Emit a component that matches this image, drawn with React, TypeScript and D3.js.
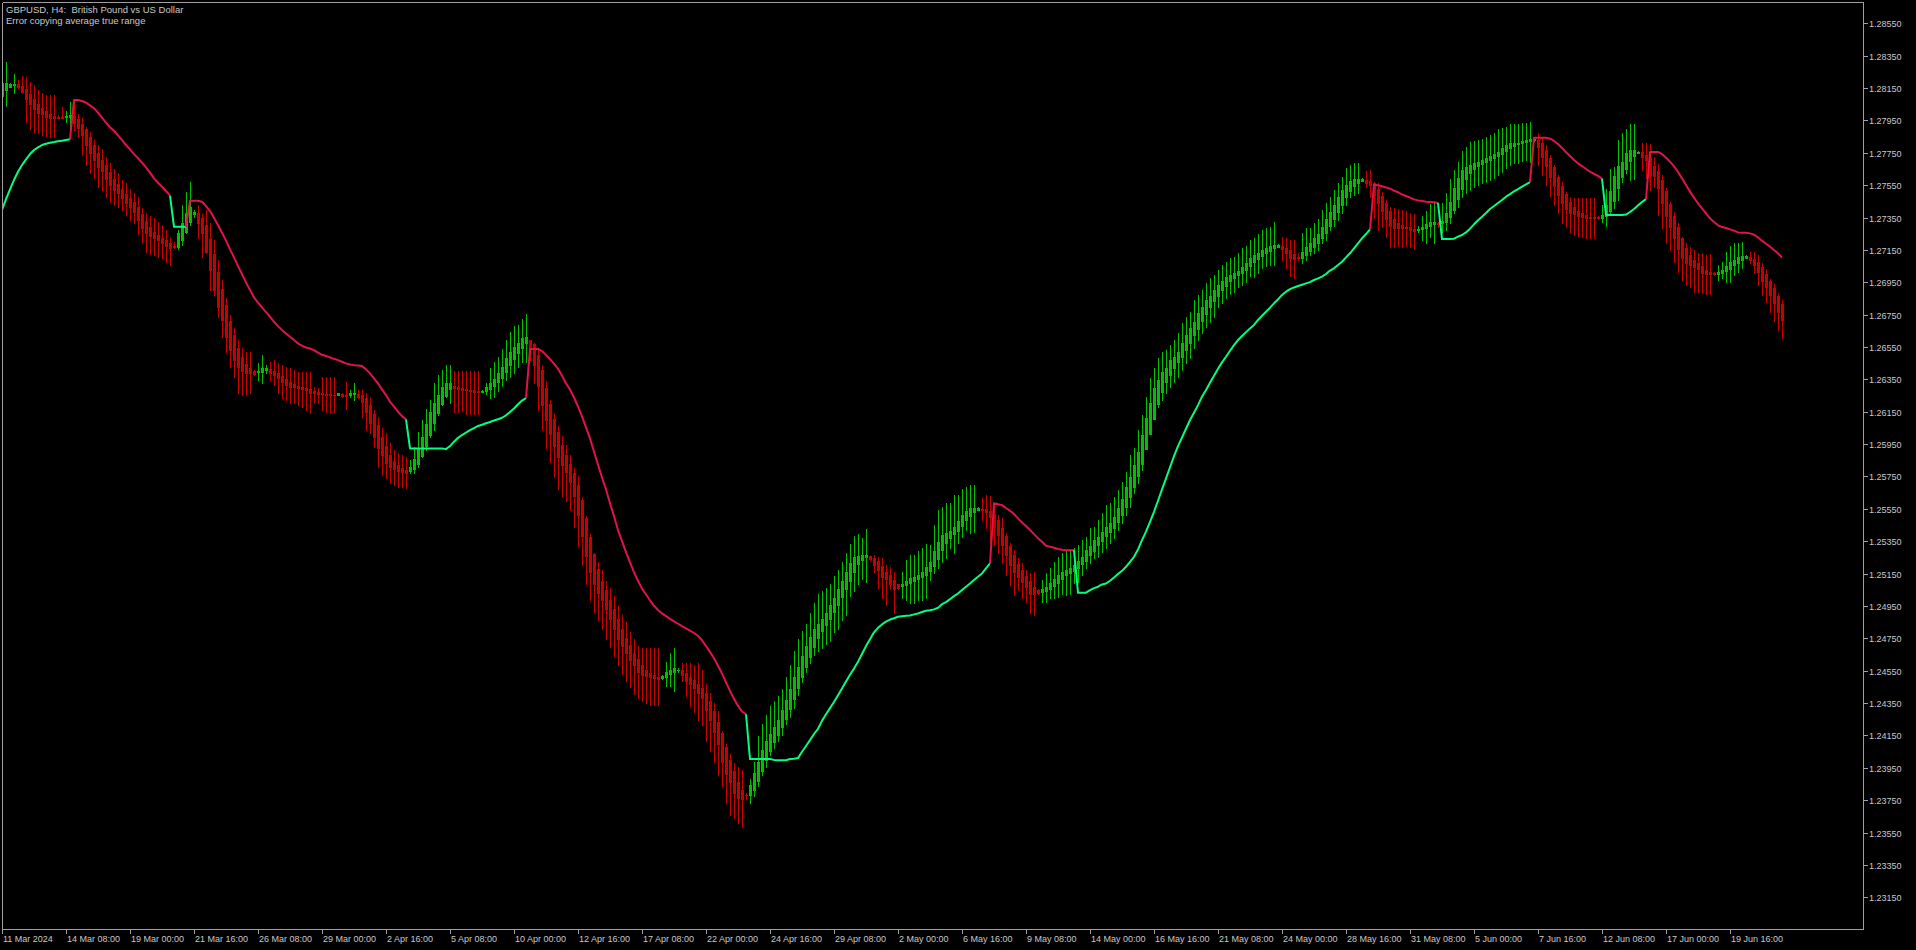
import React, { useEffect } from 'react';
import * as d3 from 'd3';

// ---------------- DATA ----------------
const chartTitle = 'GBPUSD, H4:  British Pound vs US Dollar';
const chartNote = 'Error copying average true range';

// Heikin-Ashi close per H4 bar
const haClose: number[] = [
  1.28180, 1.28179, 1.28175, 1.28177, 1.28158, 1.28128, 1.28080, 1.28049, 1.28018, 1.27998,
  1.27990, 1.27973, 1.27967, 1.27967, 1.27967, 1.27967, 1.27977, 1.27983, 1.27936, 1.27901,
  1.27860, 1.27798, 1.27746, 1.27705, 1.27664, 1.27639, 1.27586, 1.27551, 1.27520, 1.27499,
  1.27468, 1.27442, 1.27417, 1.27386, 1.27334, 1.27283, 1.27252, 1.27236, 1.27221, 1.27211,
  1.27194, 1.27174, 1.27159, 1.27165, 1.27252, 1.27314, 1.27380, 1.27417, 1.27386, 1.27314,
  1.27256, 1.27139, 1.27026, 1.26902, 1.26799, 1.26717, 1.26614, 1.26531, 1.26469, 1.26428,
  1.26403, 1.26391, 1.26391, 1.26383, 1.26403, 1.26418, 1.26418, 1.26387, 1.26376, 1.26356,
  1.26335, 1.26315, 1.26304, 1.26300, 1.26294, 1.26288, 1.26284, 1.26267, 1.26263, 1.26259,
  1.26259, 1.26253, 1.26253, 1.26251, 1.26263, 1.26249, 1.26249, 1.26267, 1.26263, 1.26243,
  1.26212, 1.26150, 1.26078, 1.25996, 1.25923, 1.25882, 1.25831, 1.25810, 1.25794, 1.25785,
  1.25779, 1.25773, 1.25810, 1.25861, 1.25923, 1.25996, 1.26074, 1.26150, 1.26201, 1.26253,
  1.26304, 1.26325, 1.26329, 1.26294, 1.26288, 1.26287, 1.26283, 1.26277, 1.26270, 1.26270,
  1.26281, 1.26304, 1.26325, 1.26355, 1.26389, 1.26425, 1.26479, 1.26517, 1.26549, 1.26574,
  1.26606, 1.26613, 1.26542, 1.26436, 1.26308, 1.26191, 1.26096, 1.26015, 1.25940, 1.25872,
  1.25819, 1.25776, 1.25713, 1.25627, 1.25510, 1.25383, 1.25261, 1.25159, 1.25085, 1.25032,
  1.24989, 1.24930, 1.24872, 1.24808, 1.24744, 1.24702, 1.24659, 1.24617, 1.24585, 1.24542,
  1.24521, 1.24517, 1.24510, 1.24504, 1.24500, 1.24517, 1.24542, 1.24553, 1.24564, 1.24555,
  1.24521, 1.24489, 1.24468, 1.24446, 1.24415, 1.24383, 1.24308, 1.24244, 1.24170, 1.24095,
  1.23989, 1.23914, 1.23861, 1.23797, 1.23765, 1.23755, 1.23780, 1.23844, 1.23921, 1.23989,
  1.24063, 1.24117, 1.24159, 1.24202, 1.24244, 1.24308, 1.24372, 1.24436, 1.24510, 1.24574,
  1.24638, 1.24702, 1.24759, 1.24808, 1.24840, 1.24872, 1.24904, 1.24957, 1.25000, 1.25053,
  1.25106, 1.25159, 1.25213, 1.25255, 1.25261, 1.25266, 1.25266, 1.25240, 1.25202, 1.25170,
  1.25127, 1.25117, 1.25085, 1.25057, 1.25062, 1.25085, 1.25106, 1.25121, 1.25127, 1.25142,
  1.25159, 1.25191, 1.25223, 1.25291, 1.25347, 1.25388, 1.25398, 1.25415, 1.25435, 1.25477,
  1.25512, 1.25538, 1.25553, 1.25557, 1.25557, 1.25543, 1.25532, 1.25501, 1.25439, 1.25388,
  1.25326, 1.25264, 1.25203, 1.25161, 1.25131, 1.25100, 1.25069, 1.25027, 1.25027, 1.25032,
  1.25052, 1.25069, 1.25089, 1.25114, 1.25141, 1.25161, 1.25172, 1.25182, 1.25203, 1.25229,
  1.25254, 1.25295, 1.25320, 1.25357, 1.25378, 1.25408, 1.25439, 1.25460, 1.25501, 1.25553,
  1.25608, 1.25687, 1.25748, 1.25820, 1.25903, 1.26006, 1.26109, 1.26202, 1.26294, 1.26346,
  1.26397, 1.26418, 1.26469, 1.26490, 1.26521, 1.26572, 1.26624, 1.26665, 1.26706, 1.26758,
  1.26799, 1.26840, 1.26865, 1.26902, 1.26933, 1.26960, 1.26985, 1.26995, 1.27009, 1.27022,
  1.27046, 1.27071, 1.27098, 1.27118, 1.27133, 1.27149, 1.27159, 1.27174, 1.27180, 1.27180,
  1.27153, 1.27129, 1.27098, 1.27092, 1.27098, 1.27139, 1.27166, 1.27190, 1.27221, 1.27248,
  1.27289, 1.27339, 1.27386, 1.27427, 1.27475, 1.27520, 1.27551, 1.27578, 1.27586, 1.27586,
  1.27586, 1.27565, 1.27551, 1.27489, 1.27438, 1.27392, 1.27339, 1.27298, 1.27287, 1.27287,
  1.27287, 1.27287, 1.27273, 1.27269, 1.27281, 1.27294, 1.27310, 1.27322, 1.27324, 1.27310,
  1.27331, 1.27380, 1.27448, 1.27530, 1.27592, 1.27644, 1.27660, 1.27675, 1.27685, 1.27695,
  1.27705, 1.27716, 1.27730, 1.27743, 1.27757, 1.27778, 1.27798, 1.27808, 1.27813, 1.27813,
  1.27825, 1.27829, 1.27833, 1.27833, 1.27788, 1.27726, 1.27668, 1.27602, 1.27545, 1.27489,
  1.27442, 1.27401, 1.27380, 1.27372, 1.27359, 1.27351, 1.27349, 1.27349, 1.27349, 1.27347,
  1.27365, 1.27427, 1.27516, 1.27607, 1.27668, 1.27695, 1.27747, 1.27767, 1.27767, 1.27755,
  1.27726, 1.27705, 1.27613, 1.27607, 1.27530, 1.27442, 1.27359, 1.27289, 1.27221, 1.27153,
  1.27098, 1.27071, 1.27057, 1.27046, 1.27030, 1.27009, 1.27001, 1.26999, 1.27001, 1.27015,
  1.27026, 1.27050, 1.27077, 1.27087, 1.27104, 1.27112, 1.27112, 1.27087, 1.27057, 1.27015,
  1.26960, 1.26918, 1.26871, 1.26820, 1.26768, 1.26717,
];

// bar highs
const barHigh: number[] = [
  1.28260, 1.28311, 1.28180, 1.28235, 1.28200, 1.28224, 1.28220, 1.28187, 1.28171, 1.28138,
  1.28121, 1.28107, 1.28105, 1.28105, 1.27981, 1.28031, 1.28008, 1.28066, 1.28076, 1.27990,
  1.27963, 1.27911, 1.27880, 1.27829, 1.27798, 1.27771, 1.27726, 1.27685, 1.27648, 1.27623,
  1.27582, 1.27561, 1.27524, 1.27499, 1.27479, 1.27406, 1.27376, 1.27359, 1.27345, 1.27324,
  1.27304, 1.27273, 1.27231, 1.27200, 1.27273, 1.27427, 1.27510, 1.27571, 1.27396, 1.27427,
  1.27370, 1.27396, 1.27314, 1.27211, 1.27087, 1.26964, 1.26850, 1.26747, 1.26665, 1.26593,
  1.26541, 1.26521, 1.26521, 1.26407, 1.26449, 1.26500, 1.26438, 1.26459, 1.26469, 1.26449,
  1.26438, 1.26428, 1.26418, 1.26407, 1.26397, 1.26397, 1.26397, 1.26397, 1.26304, 1.26294,
  1.26366, 1.26366, 1.26366, 1.26366, 1.26267, 1.26263, 1.26335, 1.26284, 1.26325, 1.26284,
  1.26284, 1.26263, 1.26243, 1.26160, 1.26120, 1.26047, 1.26016, 1.25954, 1.25913, 1.25893,
  1.25882, 1.25872, 1.25851, 1.25934, 1.26026, 1.26099, 1.26170, 1.26222, 1.26325, 1.26376,
  1.26407, 1.26438, 1.26438, 1.26403, 1.26403, 1.26404, 1.26404, 1.26404, 1.26404, 1.26404,
  1.26287, 1.26330, 1.26419, 1.26457, 1.26489, 1.26538, 1.26596, 1.26645, 1.26681, 1.26687,
  1.26723, 1.26755, 1.26596, 1.26574, 1.26542, 1.26436, 1.26340, 1.26223, 1.26138, 1.26064,
  1.26000, 1.25947, 1.25883, 1.25802, 1.25755, 1.25617, 1.25504, 1.25393, 1.25276, 1.25223,
  1.25170, 1.25106, 1.25064, 1.25010, 1.24951, 1.24893, 1.24851, 1.24787, 1.24744, 1.24702,
  1.24691, 1.24691, 1.24691, 1.24691, 1.24691, 1.24525, 1.24606, 1.24659, 1.24691, 1.24564,
  1.24595, 1.24595, 1.24595, 1.24585, 1.24595, 1.24553, 1.24468, 1.24415, 1.24351, 1.24298,
  1.24180, 1.24095, 1.24036, 1.23978, 1.23957, 1.23936, 1.23797, 1.23882, 1.23989, 1.24149,
  1.24223, 1.24276, 1.24329, 1.24361, 1.24393, 1.24436, 1.24510, 1.24585, 1.24670, 1.24744,
  1.24798, 1.24840, 1.24904, 1.24968, 1.25021, 1.25042, 1.25064, 1.25085, 1.25138, 1.25170,
  1.25223, 1.25276, 1.25330, 1.25383, 1.25393, 1.25372, 1.25425, 1.25255, 1.25266, 1.25255,
  1.25245, 1.25202, 1.25191, 1.25159, 1.25074, 1.25159, 1.25234, 1.25266, 1.25266, 1.25287,
  1.25308, 1.25330, 1.25326, 1.25450, 1.25543, 1.25563, 1.25584, 1.25588, 1.25635, 1.25635,
  1.25670, 1.25687, 1.25697, 1.25697, 1.25563, 1.25614, 1.25635, 1.25629, 1.25573, 1.25512,
  1.25491, 1.25398, 1.25336, 1.25295, 1.25244, 1.25213, 1.25172, 1.25151, 1.25161, 1.25052,
  1.25110, 1.25151, 1.25182, 1.25223, 1.25254, 1.25279, 1.25291, 1.25299, 1.25306, 1.25326,
  1.25357, 1.25378, 1.25429, 1.25439, 1.25481, 1.25522, 1.25573, 1.25584, 1.25625, 1.25666,
  1.25718, 1.25779, 1.25882, 1.25924, 1.26037, 1.26129, 1.26243, 1.26356, 1.26418, 1.26480,
  1.26521, 1.26531, 1.26562, 1.26593, 1.26634, 1.26696, 1.26737, 1.26768, 1.26840, 1.26871,
  1.26902, 1.26943, 1.26974, 1.26995, 1.27026, 1.27057, 1.27077, 1.27098, 1.27104, 1.27129,
  1.27160, 1.27174, 1.27211, 1.27221, 1.27248, 1.27273, 1.27283, 1.27289, 1.27324, 1.27186,
  1.27227, 1.27221, 1.27211, 1.27211, 1.27129, 1.27252, 1.27283, 1.27283, 1.27314, 1.27339,
  1.27396, 1.27438, 1.27475, 1.27520, 1.27561, 1.27598, 1.27654, 1.27675, 1.27689, 1.27689,
  1.27592, 1.27639, 1.27644, 1.27571, 1.27561, 1.27510, 1.27458, 1.27417, 1.27407, 1.27401,
  1.27396, 1.27392, 1.27380, 1.27372, 1.27298, 1.27359, 1.27392, 1.27434, 1.27438, 1.27324,
  1.27438, 1.27499, 1.27586, 1.27644, 1.27695, 1.27761, 1.27784, 1.27819, 1.27825, 1.27829,
  1.27837, 1.27845, 1.27860, 1.27874, 1.27895, 1.27901, 1.27911, 1.27928, 1.27928, 1.27928,
  1.27936, 1.27936, 1.27940, 1.27839, 1.27870, 1.27839, 1.27798, 1.27736, 1.27675, 1.27613,
  1.27572, 1.27510, 1.27479, 1.27468, 1.27468, 1.27468, 1.27468, 1.27468, 1.27468, 1.27359,
  1.27427, 1.27524, 1.27648, 1.27664, 1.27829, 1.27874, 1.27895, 1.27926, 1.27928, 1.27759,
  1.27808, 1.27813, 1.27804, 1.27726, 1.27681, 1.27613, 1.27530, 1.27448, 1.27386, 1.27314,
  1.27232, 1.27190, 1.27170, 1.27149, 1.27133, 1.27129, 1.27118, 1.27125, 1.27015, 1.27057,
  1.27077, 1.27139, 1.27174, 1.27190, 1.27195, 1.27201, 1.27118, 1.27139, 1.27139, 1.27118,
  1.27071, 1.27030, 1.26968, 1.26939, 1.26881, 1.26840,
];

// bar lows
const barLow: number[] = [
  1.28080, 1.28039, 1.28154, 1.28121, 1.28148, 1.28121, 1.27942, 1.27895, 1.27880, 1.27870,
  1.27860, 1.27854, 1.27845, 1.27845, 1.27963, 1.27963, 1.27942, 1.27901, 1.27891, 1.27849,
  1.27736, 1.27674, 1.27623, 1.27592, 1.27540, 1.27520, 1.27479, 1.27448, 1.27427, 1.27417,
  1.27396, 1.27365, 1.27334, 1.27314, 1.27248, 1.27190, 1.27139, 1.27124, 1.27118, 1.27108,
  1.27098, 1.27077, 1.27056, 1.27159, 1.27153, 1.27180, 1.27252, 1.27303, 1.27355, 1.27221,
  1.27108, 1.27129, 1.26902, 1.26871, 1.26737, 1.26614, 1.26521, 1.26428, 1.26366, 1.26263,
  1.26253, 1.26253, 1.26263, 1.26376, 1.26346, 1.26325, 1.26387, 1.26346, 1.26315, 1.26263,
  1.26232, 1.26222, 1.26201, 1.26201, 1.26191, 1.26181, 1.26160, 1.26140, 1.26201, 1.26201,
  1.26160, 1.26150, 1.26140, 1.26150, 1.26251, 1.26243, 1.26170, 1.26243, 1.26222, 1.26232,
  1.26120, 1.26037, 1.26016, 1.25934, 1.25810, 1.25759, 1.25738, 1.25707, 1.25697, 1.25686,
  1.25686, 1.25676, 1.25769, 1.25773, 1.25810, 1.25868, 1.25913, 1.25996, 1.26037, 1.26130,
  1.26191, 1.26243, 1.26201, 1.26150, 1.26150, 1.26155, 1.26138, 1.26138, 1.26138, 1.26138,
  1.26270, 1.26262, 1.26234, 1.26240, 1.26277, 1.26308, 1.26347, 1.26362, 1.26389, 1.26425,
  1.26457, 1.26457, 1.26468, 1.26330, 1.26159, 1.26036, 1.25925, 1.25840, 1.25745, 1.25674,
  1.25627, 1.25596, 1.25542, 1.25436, 1.25319, 1.25202, 1.25085, 1.24989, 1.24915, 1.24861,
  1.24808, 1.24744, 1.24695, 1.24638, 1.24585, 1.24532, 1.24489, 1.24447, 1.24404, 1.24383,
  1.24361, 1.24351, 1.24340, 1.24340, 1.24340, 1.24500, 1.24457, 1.24457, 1.24425, 1.24540,
  1.24489, 1.24393, 1.24329, 1.24297, 1.24244, 1.24212, 1.24117, 1.24053, 1.23989, 1.23904,
  1.23840, 1.23734, 1.23659, 1.23638, 1.23606, 1.23585, 1.23759, 1.23734, 1.23776, 1.23840,
  1.23904, 1.23957, 1.24031, 1.24074, 1.24117, 1.24155, 1.24223, 1.24266, 1.24319, 1.24398,
  1.24478, 1.24542, 1.24595, 1.24649, 1.24670, 1.24691, 1.24713, 1.24734, 1.24787, 1.24808,
  1.24861, 1.24893, 1.25010, 1.25042, 1.25085, 1.25117, 1.25096, 1.25234, 1.25159, 1.25064,
  1.25000, 1.24957, 1.25053, 1.24904, 1.25053, 1.25000, 1.24989, 1.24968, 1.24968, 1.24989,
  1.24989, 1.24999, 1.25110, 1.25151, 1.25182, 1.25223, 1.25244, 1.25306, 1.25275, 1.25336,
  1.25378, 1.25419, 1.25398, 1.25409, 1.25546, 1.25481, 1.25429, 1.25336, 1.25326, 1.25275,
  1.25213, 1.25141, 1.25079, 1.25017, 1.25048, 1.24997, 1.24976, 1.24904, 1.24894, 1.25023,
  1.24976, 1.24976, 1.24997, 1.24997, 1.25007, 1.25027, 1.25017, 1.25027, 1.25089, 1.25100,
  1.25141, 1.25182, 1.25213, 1.25244, 1.25254, 1.25285, 1.25306, 1.25336, 1.25367, 1.25419,
  1.25460, 1.25512, 1.25563, 1.25645, 1.25707, 1.25790, 1.25954, 1.26057, 1.26109, 1.26181,
  1.26222, 1.26263, 1.26305, 1.26336, 1.26366, 1.26408, 1.26449, 1.26480, 1.26542, 1.26593,
  1.26634, 1.26675, 1.26706, 1.26737, 1.26799, 1.26820, 1.26851, 1.26877, 1.26892, 1.26923,
  1.26933, 1.26954, 1.26989, 1.26985, 1.27005, 1.27036, 1.27050, 1.27057, 1.27057, 1.27166,
  1.27087, 1.27036, 1.26989, 1.26974, 1.27087, 1.27067, 1.27087, 1.27118, 1.27129, 1.27149,
  1.27190, 1.27211, 1.27273, 1.27298, 1.27335, 1.27380, 1.27427, 1.27479, 1.27489, 1.27499,
  1.27578, 1.27541, 1.27479, 1.27345, 1.27273, 1.27293, 1.27232, 1.27170, 1.27170, 1.27174,
  1.27170, 1.27174, 1.27170, 1.27153, 1.27263, 1.27211, 1.27190, 1.27232, 1.27190, 1.27293,
  1.27252, 1.27273, 1.27314, 1.27376, 1.27417, 1.27479, 1.27499, 1.27520, 1.27541, 1.27551,
  1.27561, 1.27572, 1.27582, 1.27592, 1.27613, 1.27633, 1.27654, 1.27675, 1.27685, 1.27685,
  1.27701, 1.27705, 1.27695, 1.27825, 1.27675, 1.27613, 1.27551, 1.27483, 1.27427, 1.27376,
  1.27314, 1.27293, 1.27263, 1.27242, 1.27236, 1.27232, 1.27221, 1.27221, 1.27221, 1.27343,
  1.27324, 1.27298, 1.27366, 1.27407, 1.27458, 1.27572, 1.27623, 1.27582, 1.27586, 1.27747,
  1.27644, 1.27592, 1.27520, 1.27541, 1.27366, 1.27283, 1.27190, 1.27149, 1.27077, 1.27015,
  1.26964, 1.26933, 1.26923, 1.26892, 1.26892, 1.26881, 1.26877, 1.26877, 1.26995, 1.26964,
  1.26974, 1.26954, 1.26954, 1.26995, 1.27015, 1.27036, 1.27104, 1.27067, 1.27005, 1.26933,
  1.26871, 1.26830, 1.26768, 1.26712, 1.26655, 1.26603,
];

// Heikin-Ashi open of the first bar (later opens follow the HA rule)
const haSeedOpen = 1.28100;

// trend-following stop line (one value per bar)
const trendLine: number[] = [
  1.27396, 1.27464, 1.27524, 1.27582, 1.27633, 1.27674, 1.27709, 1.27742, 1.27767, 1.27783,
  1.27798, 1.27806, 1.27812, 1.27816, 1.27821, 1.27825, 1.27829, 1.27833, 1.28076, 1.28076,
  1.28070, 1.28060, 1.28043, 1.28025, 1.27998, 1.27967, 1.27936, 1.27907, 1.27886, 1.27858,
  1.27829, 1.27798, 1.27771, 1.27742, 1.27716, 1.27689, 1.27660, 1.27627, 1.27592, 1.27565,
  1.27540, 1.27514, 1.27485, 1.27293, 1.27293, 1.27293, 1.27293, 1.27454, 1.27454, 1.27454,
  1.27448, 1.27421, 1.27390, 1.27349, 1.27304, 1.27256, 1.27207, 1.27153, 1.27104, 1.27050,
  1.27001, 1.26949, 1.26902, 1.26856, 1.26824, 1.26795, 1.26766, 1.26737, 1.26706, 1.26679,
  1.26655, 1.26634, 1.26613, 1.26593, 1.26572, 1.26558, 1.26547, 1.26541, 1.26531, 1.26515,
  1.26502, 1.26494, 1.26486, 1.26477, 1.26469, 1.26459, 1.26449, 1.26442, 1.26438, 1.26436,
  1.26432, 1.26412, 1.26387, 1.26356, 1.26325, 1.26288, 1.26253, 1.26212, 1.26181, 1.26150,
  1.26123, 1.26103, 1.25923, 1.25923, 1.25923, 1.25923, 1.25923, 1.25923, 1.25923, 1.25923,
  1.25923, 1.25919, 1.25938, 1.25965, 1.25989, 1.26006, 1.26021, 1.26036, 1.26049, 1.26062,
  1.26070, 1.26079, 1.26087, 1.26096, 1.26104, 1.26113, 1.26128, 1.26149, 1.26170, 1.26196,
  1.26219, 1.26234, 1.26538, 1.26538, 1.26538, 1.26525, 1.26500, 1.26474, 1.26447, 1.26415,
  1.26372, 1.26325, 1.26287, 1.26238, 1.26181, 1.26121, 1.26053, 1.25985, 1.25904, 1.25823,
  1.25744, 1.25670, 1.25585, 1.25504, 1.25419, 1.25351, 1.25283, 1.25219, 1.25159, 1.25106,
  1.25057, 1.25021, 1.24985, 1.24951, 1.24925, 1.24904, 1.24887, 1.24870, 1.24855, 1.24840,
  1.24825, 1.24812, 1.24798, 1.24783, 1.24766, 1.24738, 1.24702, 1.24666, 1.24627, 1.24581,
  1.24532, 1.24478, 1.24425, 1.24376, 1.24334, 1.24298, 1.24281, 1.24004, 1.24004, 1.24004,
  1.24004, 1.24004, 1.24004, 1.23999, 1.23997, 1.23997, 1.23997, 1.24004, 1.24006, 1.24010,
  1.24049, 1.24085, 1.24121, 1.24159, 1.24191, 1.24240, 1.24281, 1.24319, 1.24357, 1.24398,
  1.24440, 1.24483, 1.24525, 1.24563, 1.24606, 1.24653, 1.24702, 1.24744, 1.24787, 1.24815,
  1.24836, 1.24853, 1.24866, 1.24874, 1.24883, 1.24887, 1.24889, 1.24891, 1.24898, 1.24904,
  1.24913, 1.24920, 1.24924, 1.24929, 1.24939, 1.24961, 1.24974, 1.24992, 1.25011, 1.25027,
  1.25048, 1.25069, 1.25089, 1.25110, 1.25131, 1.25151, 1.25182, 1.25214, 1.25584, 1.25579,
  1.25573, 1.25555, 1.25538, 1.25518, 1.25491, 1.25466, 1.25444, 1.25419, 1.25394, 1.25369,
  1.25347, 1.25322, 1.25316, 1.25310, 1.25302, 1.25297, 1.25295, 1.25295, 1.25295, 1.25032,
  1.25032, 1.25032, 1.25048, 1.25060, 1.25069, 1.25083, 1.25089, 1.25106, 1.25126, 1.25147,
  1.25167, 1.25192, 1.25223, 1.25254, 1.25299, 1.25357, 1.25409, 1.25470, 1.25532, 1.25600,
  1.25670, 1.25738, 1.25806, 1.25876, 1.25938, 1.25991, 1.26045, 1.26099, 1.26144, 1.26191,
  1.26243, 1.26284, 1.26329, 1.26373, 1.26416, 1.26455, 1.26490, 1.26527, 1.26562, 1.26593,
  1.26618, 1.26642, 1.26665, 1.26686, 1.26717, 1.26743, 1.26768, 1.26793, 1.26820, 1.26844,
  1.26871, 1.26892, 1.26908, 1.26918, 1.26927, 1.26935, 1.26943, 1.26951, 1.26964, 1.26974,
  1.26985, 1.27001, 1.27022, 1.27036, 1.27057, 1.27077, 1.27104, 1.27129, 1.27159, 1.27190,
  1.27221, 1.27248, 1.27277, 1.27551, 1.27549, 1.27543, 1.27536, 1.27528, 1.27516, 1.27506,
  1.27493, 1.27483, 1.27473, 1.27462, 1.27456, 1.27452, 1.27448, 1.27446, 1.27444, 1.27440,
  1.27217, 1.27217, 1.27217, 1.27219, 1.27232, 1.27242, 1.27258, 1.27281, 1.27308, 1.27333,
  1.27355, 1.27378, 1.27403, 1.27421, 1.27440, 1.27458, 1.27479, 1.27495, 1.27512, 1.27526,
  1.27541, 1.27555, 1.27569, 1.27843, 1.27843, 1.27843, 1.27843, 1.27837, 1.27823, 1.27804,
  1.27780, 1.27753, 1.27730, 1.27705, 1.27685, 1.27668, 1.27650, 1.27633, 1.27619, 1.27607,
  1.27590, 1.27366, 1.27366, 1.27366, 1.27366, 1.27366, 1.27368, 1.27384, 1.27403, 1.27425,
  1.27446, 1.27464, 1.27755, 1.27755, 1.27755, 1.27742, 1.27720, 1.27695, 1.27666, 1.27631,
  1.27592, 1.27551, 1.27510, 1.27473, 1.27438, 1.27407, 1.27376, 1.27345, 1.27322, 1.27302,
  1.27291, 1.27285, 1.27277, 1.27269, 1.27258, 1.27256, 1.27256, 1.27252, 1.27244, 1.27227,
  1.27207, 1.27188, 1.27170, 1.27149, 1.27129, 1.27102,
];

// bar index ranges where the stop line is in up-trend mode (the rest is down-trend)
const upTrendRanges: [number, number][] = [
  [0, 17], [43, 46], [102, 131], [187, 247], [269, 342], [360, 382], [401, 411],
];

const priceTickLabels: string[] = [
  '1.28550', '1.28350', '1.28150', '1.27950', '1.27750', '1.27550', '1.27350',
  '1.27150', '1.26950', '1.26750', '1.26550', '1.26350', '1.26150', '1.25950',
  '1.25750', '1.25550', '1.25350', '1.25150', '1.24950', '1.24750', '1.24550',
  '1.24350', '1.24150', '1.23950', '1.23750', '1.23550', '1.23350', '1.23150',
];

const timeLabels: string[] = [
  '11 Mar 2024', '14 Mar 08:00', '19 Mar 00:00', '21 Mar 16:00', '26 Mar 08:00',
  '29 Mar 00:00', '2 Apr 16:00', '5 Apr 08:00', '10 Apr 00:00', '12 Apr 16:00',
  '17 Apr 08:00', '22 Apr 00:00', '24 Apr 16:00', '29 Apr 08:00', '2 May 00:00',
  '6 May 16:00', '9 May 08:00', '14 May 00:00', '16 May 16:00', '21 May 08:00',
  '24 May 00:00', '28 May 16:00', '31 May 08:00', '5 Jun 00:00', '7 Jun 16:00',
  '12 Jun 08:00', '17 Jun 00:00', '19 Jun 16:00',
];
const barsPerTimeLabel = 16;

// ---------------- LAYOUT / STYLE ----------------
const W = 1916;
const H = 950;
const PLOT = { left: 2, top: 2, right: 1863, bottom: 929 };
const BAR_STEP = 4;
const FONT = "'Liberation Sans', Arial, sans-serif";
const COLORS = {
  bg: '#000000',
  frame: '#a0a0a0',
  text: '#c8c8c8',
  bull: '#00c000',
  bear: '#c80000',
  lineUp: '#00ff80',
  lineDown: '#e0144a',
};

export default function App() {
  useEffect(() => {
    document.body.style.margin = '0';
    document.body.style.background = '#000';
  }, []);

  const n = haClose.length;
  const x = d3.scaleLinear().domain([0, 1]).range([PLOT.left, PLOT.left + BAR_STEP]);
  const tickVals = priceTickLabels.map(Number);
  const y = d3
    .scaleLinear()
    .domain([tickVals[0], tickVals[tickVals.length - 1]])
    .range([23.3, 897.3]);

  // Heikin-Ashi opens
  const haOpen: number[] = [];
  for (let i = 0; i < n; i++) {
    haOpen.push(i === 0 ? haSeedOpen : (haOpen[i - 1] + haClose[i - 1]) / 2);
  }

  const candles = d3.range(n).map((i) => {
    const o = haOpen[i];
    const c = haClose[i];
    const hi = Math.max(barHigh[i], o, c);
    const lo = Math.min(barLow[i], o, c);
    const cx = Math.round(x(i));
    const bTop = Math.round(y(Math.max(o, c)));
    const bBot = Math.round(y(Math.min(o, c)));
    const wTop = Math.round(y(hi));
    const wBot = Math.round(y(lo));
    return {
      i,
      bull: c >= o,
      cx,
      bTop,
      bH: Math.max(1, bBot - bTop + 1),
      wTop,
      wH: Math.max(1, wBot - wTop + 1),
    };
  });

  const isUp = (i: number) => upTrendRanges.some(([a, b]) => i >= a && i <= b);
  const runs: { up: boolean; pts: number[] }[] = [];
  for (let i = 1; i < n; i++) {
    const up = isUp(i);
    const last = runs[runs.length - 1];
    if (last && last.up === up) last.pts.push(i);
    else runs.push({ up, pts: [i - 1, i] });
  }
  const lineGen = d3
    .line<number>()
    .x((i) => x(i))
    .y((i) => y(trendLine[i]));

  const timeTicks = timeLabels.map((label, j) => ({
    label,
    tx: Math.round(x(j * barsPerTimeLabel)),
  }));

  return (
    <svg
      width={W}
      height={H}
      style={{ position: 'fixed', left: 0, top: 0, display: 'block', background: COLORS.bg }}
    >
      <defs>
        <clipPath id="plotClip">
          <rect
            x={PLOT.left + 1}
            y={PLOT.top + 1}
            width={PLOT.right - PLOT.left - 1}
            height={PLOT.bottom - PLOT.top - 1}
          />
        </clipPath>
      </defs>
      <rect x={0} y={0} width={W} height={H} fill={COLORS.bg} />

      <g clipPath="url(#plotClip)">
        <g shapeRendering="crispEdges">
          {candles.map((c) => {
            const col = c.bull ? COLORS.bull : COLORS.bear;
            return (
              <g key={c.i} fill={col}>
                <rect x={c.cx} y={c.wTop} width={1} height={c.wH} />
                <rect x={c.cx - 1} y={c.bTop} width={3} height={c.bH} />
              </g>
            );
          })}
        </g>
        {runs.map((r, k) => (
          <path
            key={k}
            d={lineGen(r.pts) || ''}
            fill="none"
            stroke={r.up ? COLORS.lineUp : COLORS.lineDown}
            strokeWidth={2}
            strokeLinejoin="round"
            strokeLinecap="butt"
          />
        ))}
      </g>

      {/* frame */}
      <g shapeRendering="crispEdges" stroke={COLORS.frame} strokeWidth={1} fill="none">
        <line x1={PLOT.left + 0.5} y1={PLOT.top + 0.5} x2={PLOT.right + 0.5} y2={PLOT.top + 0.5} />
        <line x1={PLOT.left + 0.5} y1={PLOT.top + 0.5} x2={PLOT.left + 0.5} y2={PLOT.bottom + 0.5} />
        <line x1={PLOT.left + 0.5} y1={PLOT.bottom + 0.5} x2={PLOT.right + 0.5} y2={PLOT.bottom + 0.5} />
        <line x1={PLOT.right + 0.5} y1={PLOT.top + 0.5} x2={PLOT.right + 0.5} y2={PLOT.bottom + 0.5} />
        {tickVals.map((v, k) => {
          const ty = Math.round(y(v)) + 0.5;
          return <line key={k} x1={PLOT.right} y1={ty} x2={PLOT.right + 5} y2={ty} />;
        })}
        {timeTicks.map((t, k) => (
          <line key={k} x1={t.tx + 0.5} y1={PLOT.bottom} x2={t.tx + 0.5} y2={PLOT.bottom + 5} />
        ))}
      </g>

      {/* price labels */}
      <g fontFamily={FONT} fontSize={9} fill={COLORS.text}>
        {priceTickLabels.map((s, k) => (
          <text key={k} x={PLOT.right + 6} y={Math.round(y(tickVals[k])) + 3.5}>
            {s}
          </text>
        ))}
        {timeTicks.map((t, k) => (
          <text key={k} x={t.tx + 1} y={PLOT.bottom + 13}>
            {t.label}
          </text>
        ))}
      </g>

      {/* header */}
      <g fontFamily={FONT} fontSize={9.5} fill={COLORS.text}>
        <text x={6} y={12.5} xmlSpace="preserve" style={{ whiteSpace: 'pre' }}>
          {chartTitle}
        </text>
        <text x={6} y={24}>
          {chartNote}
        </text>
      </g>
    </svg>
  );
}
